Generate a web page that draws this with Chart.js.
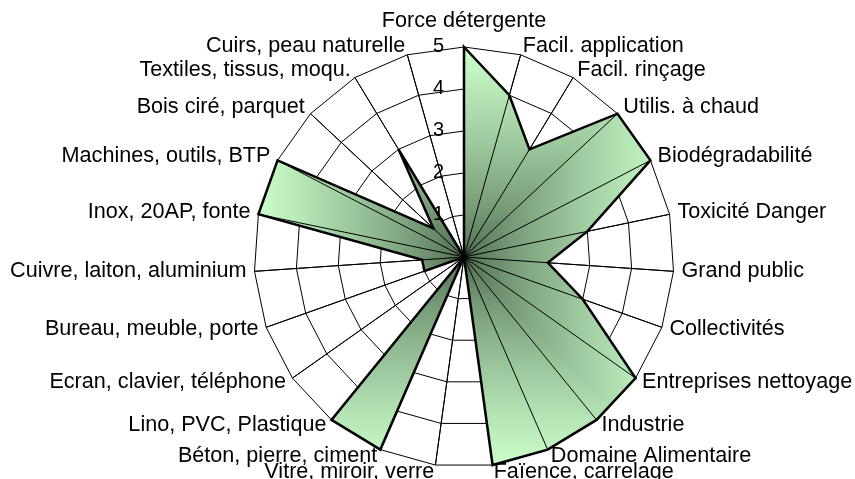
<!DOCTYPE html>
<html lang="fr">
<head>
<meta charset="utf-8">
<title>Radar produit</title>
<script src="https://cdn.jsdelivr.net/npm/chart.js@4/dist/chart.umd.min.js"></script>
<style>
  html, body { margin: 0; padding: 0; background: #fff; }
  #wrap { width: 855px; height: 479px; position: relative; }
</style>
</head>
<body>
<div id="wrap"><canvas id="radarChart"></canvas></div>
<script>
const categories = [
    'Force détergente', 'Facil. application', 'Facil. rinçage', 'Utilis. à chaud',
    'Biodégradabilité', 'Toxicité Danger', 'Grand public', 'Collectivités',
    'Entreprises nettoyage', 'Industrie', 'Domaine Alimentaire', 'Faïence, carrelage',
    'Vitre, miroir, verre', 'Béton, pierre, ciment', 'Lino, PVC, Plastique',
    'Ecran, clavier, téléphone', 'Bureau, meuble, porte', 'Cuivre, laiton, aluminium',
    'Inox, 20AP, fonte', 'Machines, outils, BTP', 'Bois ciré, parquet',
    'Textiles, tissus, moqu.', 'Cuirs, peau naturelle'
];
const values = [5, 4, 3, 5, 5, 3, 2, 3, 5, 5, 5, 5, 0, 5, 5, 0, 1, 1, 5, 5, 1, 3, 0];
const tickValues = [1, 2, 3, 4, 5];

const FONT = '"Liberation Sans", Arial, sans-serif';

// degradé "depuis le centre" (rectangulaire), sombre au centre, vert clair au bord
const colCentre = [72, 98, 72];
const colBord = [204, 255, 204];
let motif = null;

function fondDegrade(context) {
    const chart = context.chart;
    const r = chart.scales.r;
    if (!chart.chartArea || !r || !r.drawingArea) return 'rgb(150,200,150)';
    if (motif) return motif;
    const w = chart.width, h = chart.height;
    const c = document.createElement('canvas');
    c.width = w;
    c.height = h;
    const g = c.getContext('2d');
    const img = g.createImageData(w, h);
    const R = r.drawingArea;
    for (let y = 0; y < h; y++) {
        for (let x = 0; x < w; x++) {
            const d = Math.max(Math.abs(x + 0.5 - r.xCenter), Math.abs(y + 0.5 - r.yCenter));
            const t = Math.pow(Math.min(1, d / R), 0.7);
            const k = (y * w + x) * 4;
            img.data[k] = colCentre[0] + (colBord[0] - colCentre[0]) * t;
            img.data[k + 1] = colCentre[1] + (colBord[1] - colCentre[1]) * t;
            img.data[k + 2] = colCentre[2] + (colBord[2] - colCentre[2]) * t;
            img.data[k + 3] = 255;
        }
    }
    g.putImageData(img, 0, 0);
    motif = chart.ctx.createPattern(c, 'no-repeat');
    return motif;
}

// les rayons restent visibles par-dessus le remplissage
const rayonsDessus = {
    id: 'rayonsDessus',
    afterDatasetsDraw(chart) {
        const r = chart.scales.r;
        const ctx = chart.ctx;
        ctx.save();
        ctx.strokeStyle = '#000';
        ctx.lineWidth = 1;
        ctx.beginPath();
        for (let i = 0; i < categories.length; i++) {
            const p = r.getPointPosition(i, r.drawingArea);
            ctx.moveTo(r.xCenter, r.yCenter);
            ctx.lineTo(p.x, p.y);
        }
        ctx.stroke();
        ctx.restore();
    }
};

// libellés des axes et graduations, placés comme dans Excel
const libelles = {
    id: 'libelles',
    afterDraw(chart) {
        const r = chart.scales.r;
        const ctx = chart.ctx;
        ctx.save();
        ctx.fillStyle = '#000';
        ctx.font = '21.6px ' + FONT;
        categories.forEach((label, i) => {
            const p = r.getPointPosition(i, r.drawingArea + 8);
            const dx = p.x - r.xCenter;
            if (Math.abs(dx) < 1) {
                ctx.textAlign = 'center';
                ctx.textBaseline = 'alphabetic';
                ctx.fillText(label, p.x, p.y - 12);
            } else {
                ctx.textAlign = dx > 0 ? 'left' : 'right';
                ctx.textBaseline = 'middle';
                ctx.fillText(label, p.x, p.y - 1);
            }
        });
        ctx.font = '20px ' + FONT;
        ctx.textAlign = 'right';
        ctx.textBaseline = 'middle';
        tickValues.forEach(v => {
            const d = r.getDistanceFromCenterForValue(v);
            ctx.fillText(String(v), r.xCenter - 20, r.yCenter - d - 1);
        });
        ctx.restore();
    }
};

const ctx = document.getElementById('radarChart').getContext('2d');
new Chart(ctx, {
    type: 'radar',
    data: {
        labels: categories,
        datasets: [{
            data: values,
            backgroundColor: fondDegrade,
            borderColor: '#000',
            borderWidth: 2.5,
            pointRadius: 0,
            pointHoverRadius: 0,
            fill: true,
            clip: false
        }]
    },
    options: {
        responsive: true,
        maintainAspectRatio: false,
        animation: false,
        layout: { padding: { left: 254, right: 181, top: 47, bottom: 12 } },
        plugins: {
            legend: { display: false },
            tooltip: { enabled: false }
        },
        scales: {
            r: {
                min: 0,
                max: 5,
                ticks: { display: false, stepSize: 1 },
                pointLabels: { display: false },
                grid: { color: '#000', lineWidth: 1 },
                angleLines: { color: '#000', lineWidth: 1 }
            }
        }
    },
    plugins: [rayonsDessus, libelles]
});
</script>
</body>
</html>
